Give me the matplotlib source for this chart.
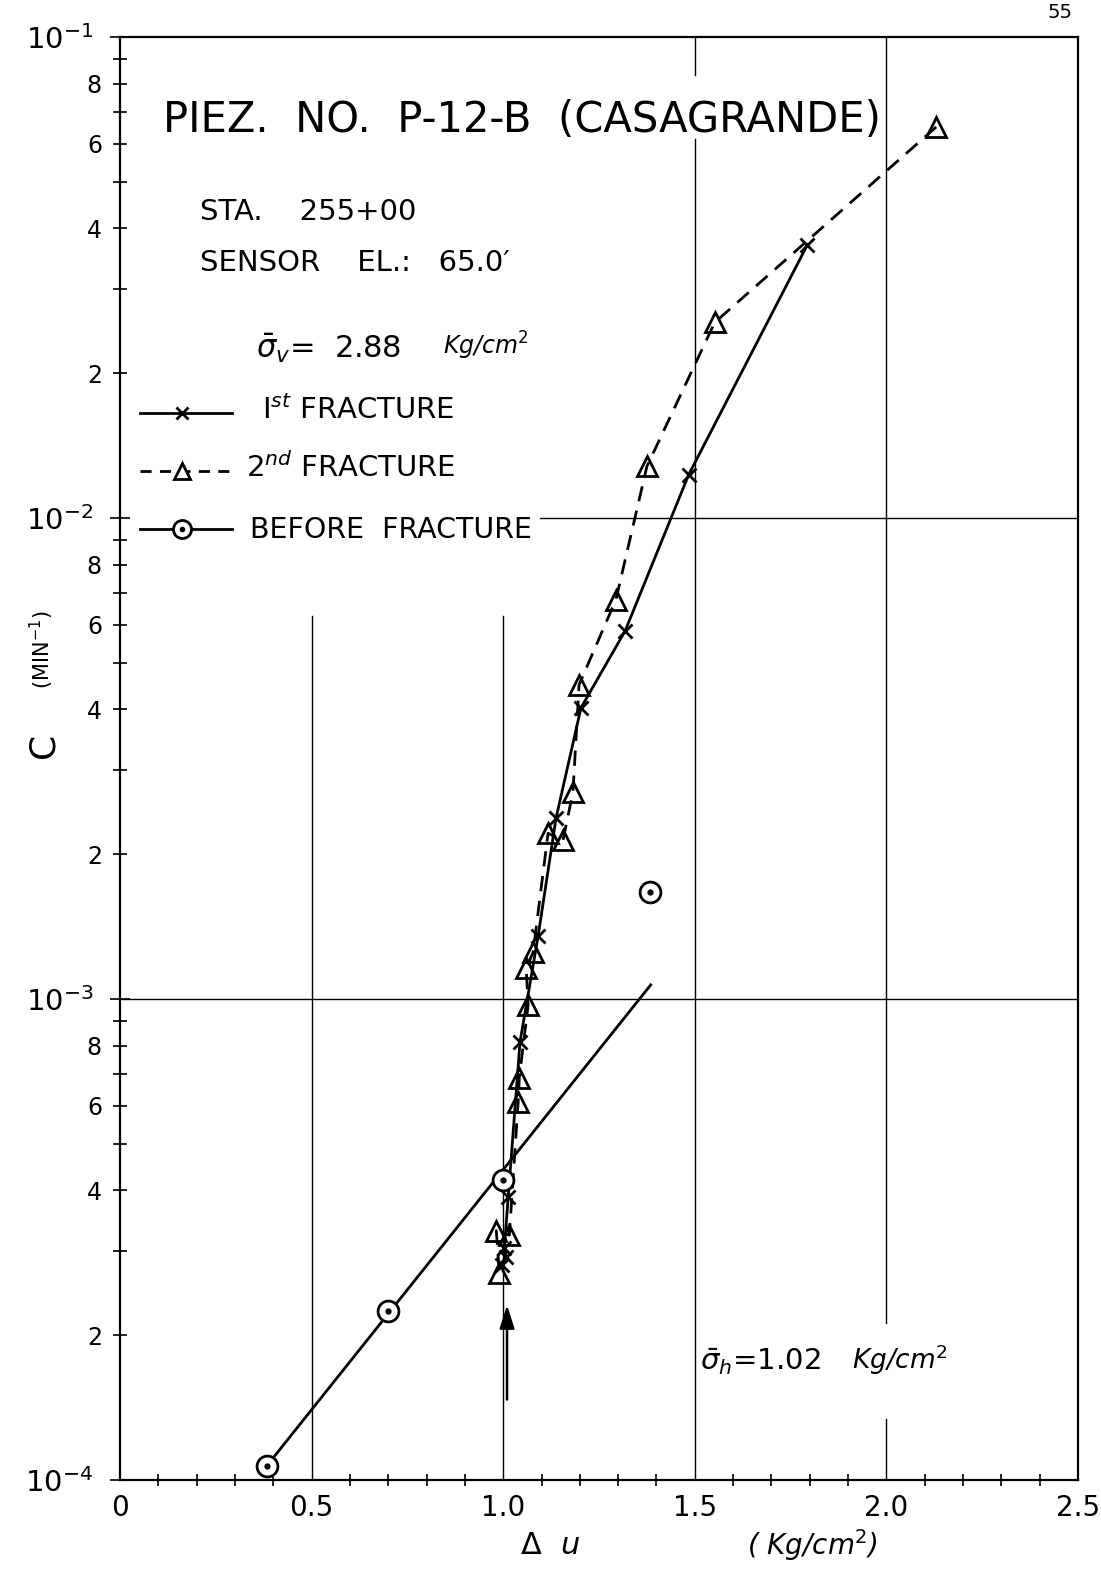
import matplotlib
matplotlib.use("Agg")
import matplotlib.pyplot as plt
from matplotlib.ticker import FixedLocator, FixedFormatter, MultipleLocator

plt.rcParams['font.family'] = ['DejaVu Sans']
plt.rcParams['mathtext.fontset'] = 'dejavusans'

# ---- data -------------------------------------------------------------
# 1st fracture (x markers, solid line)
first_du = [1.794, 1.484, 1.318, 1.203, 1.138, 1.091, 1.044, 1.013, 1.003, 1.008, 0.998]
first_c = [3.70e-2, 1.23e-2, 5.82e-3, 4.03e-3, 2.38e-3, 1.35e-3, 8.15e-4,
           3.87e-4, 3.03e-4, 2.91e-4, 2.80e-4]

# 2nd fracture (triangles, dashed line)
second_du = [2.130, 1.552, 1.375, 1.294, 1.198, 1.182, 1.156, 1.117, 1.078,
             1.060, 1.065, 1.042, 1.039, 1.016, 0.982, 0.990]
second_c = [6.50e-2, 2.55e-2, 1.28e-2, 6.76e-3, 4.50e-3, 2.69e-3, 2.14e-3,
            2.21e-3, 1.25e-3, 1.16e-3, 9.70e-4, 6.86e-4, 6.10e-4, 3.23e-4,
            3.30e-4, 2.69e-4]

# before fracture (circled dots) and its straight-line fit
before_du = [0.383, 0.700, 1.000, 1.383]
before_c = [1.07e-4, 2.25e-4, 4.20e-4, 1.67e-3]
fit_du = [0.383, 1.385]
fit_c = [1.07e-4, 1.07e-3]

# arrow marking sigma_h
arrow_du = 1.01
arrow_c = [1.47e-4, 2.31e-4]

x_ticks = [0, 0.5, 1.0, 1.5, 2.0, 2.5]
x_ticklabels = ["0", "0.5", "1.0", "1.5", "2.0", "2.5"]
y_major = [1e-4, 1e-3, 1e-2, 1e-1]
y_major_labels = [r"$10^{-4}$", r"$10^{-3}$", r"$10^{-2}$", r"$10^{-1}$"]

# ---- figure -----------------------------------------------------------
W, H = 1101, 1569
fig = plt.figure(figsize=(W / 100, H / 100), dpi=100)
fig.patch.set_facecolor("white")
ax = fig.add_axes([120 / W, 1 - 1480 / H, 958 / W, 1443 / H])
ax.set_yscale("log")
ax.set_xlim(0, 2.5)
ax.set_ylim(1e-4, 1e-1)

for s in ax.spines.values():
    s.set_linewidth(1.6)
    s.set_color("black")

# grid segments
vgrid = [(0.5, 0.0, 0.599), (1.0, 0.0, 0.599), (1.5, 0.0, 0.929), (1.5, 0.974, 1.0),
         (2.0, 0.0, 0.042), (2.0, 0.109, 1.0)]
for xv, a, b in vgrid:
    ax.axvline(xv, ymin=a, ymax=b, color="black", lw=1.0, zorder=1)
ax.axhline(1e-2, xmin=0.438, xmax=1.0, color="black", lw=1.0, zorder=1)
ax.axhline(1e-3, xmin=0.0, xmax=1.0, color="black", lw=1.0, zorder=1)

# ticks
ax.set_xticks(x_ticks)
ax.set_xticklabels(x_ticklabels)
ax.xaxis.set_minor_locator(MultipleLocator(0.1))
ax.tick_params(axis="x", which="major", length=0, labelsize=20, pad=10)
ax.tick_params(axis="x", which="minor", direction="inout", length=8, width=1.2)

minor_y = []
minor_lab = []
for dec in [1e-4, 1e-3, 1e-2]:
    for m in range(2, 10):
        minor_y.append(m * dec)
        minor_lab.append(str(m) if m in (2, 4, 6, 8) else "")
ax.yaxis.set_major_locator(FixedLocator(y_major))
ax.yaxis.set_major_formatter(FixedFormatter(y_major_labels))
ax.yaxis.set_minor_locator(FixedLocator(minor_y))
ax.yaxis.set_minor_formatter(FixedFormatter(minor_lab))
ax.tick_params(axis="y", which="major", direction="inout", length=14, width=1.2,
               labelsize=21, pad=12)
ax.tick_params(axis="y", which="minor", direction="inout", length=10, width=1.2,
               labelsize=17, pad=8)

# data
ax.plot(fit_du, fit_c, color="black", lw=2.0, zorder=3)
ax.plot(first_du, first_c, color="black", lw=2.0, marker="x", ms=10, mew=2.0, zorder=4)
ax.plot(second_du, second_c, color="black", lw=2.0, ls=(0, (5.5, 3.5)), marker="^",
        ms=14, mew=2.0, mfc="none", zorder=4)
ax.plot(before_du, before_c, ls="none", marker="o", ms=15, mew=2.0, mfc="white",
        mec="black", zorder=5)
ax.plot(before_du, before_c, ls="none", marker="o", ms=3.5, color="black", zorder=6)

ax.annotate("", xy=(arrow_du, arrow_c[1]), xytext=(arrow_du, arrow_c[0]),
            arrowprops=dict(arrowstyle="-|>,head_length=1.4,head_width=0.45",
                            color="black", lw=1.8, shrinkA=0, shrinkB=0), zorder=4)


def ftext(px, py, s, **kw):
    fig.text(px / W, 1 - py / H, s, **kw)


ftext(1060, 12, "55", fontsize=14, ha="center", va="center")
ftext(163, 120, "PIEZ.  NO.  P-12-B  (CASAGRANDE)", fontsize=30, ha="left", va="center")
ftext(200, 212, "STA.    255+00", fontsize=21, ha="left", va="center")
ftext(200, 263, "SENSOR    EL.:   65.0\u2032", fontsize=21, ha="left", va="center")
ftext(256, 348, r"$\bar{\sigma}_v$=  2.88", fontsize=22, ha="left", va="center")
ftext(443, 346, r"Kg/cm$^2$", fontsize=17, ha="left", va="center", style="italic")
ftext(700, 1362, r"$\bar{\sigma}_h$=1.02", fontsize=21, ha="left", va="center")
ftext(852, 1360, r"Kg/cm$^2$", fontsize=19, ha="left", va="center", style="italic")

# hand-drawn style key
kx0, kx1, kxm = 140 / W, 232 / W, 182 / W
for py, ls, mk, ms in [(413, "-", "x", 9), (471, (0, (4, 3)), "^", 12), (529, "-", "o", 13)]:
    fy = 1 - py / H
    fig.add_artist(plt.Line2D([kx0, kx1], [fy, fy], color="black", lw=2.0, ls=ls,
                              transform=fig.transFigure))
    mfc = "white" if mk != "x" else "black"
    fig.add_artist(plt.Line2D([kxm], [fy], marker=mk, ms=ms, mew=2.0, mfc=mfc,
                              mec="black", ls="none", transform=fig.transFigure))
    if mk == "o":
        fig.add_artist(plt.Line2D([kxm], [fy], marker="o", ms=3, color="black",
                                  ls="none", transform=fig.transFigure))
ftext(262, 410, r"I$^{st}$ FRACTURE", fontsize=21, ha="left", va="center")
ftext(246, 468, r"2$^{nd}$ FRACTURE", fontsize=21, ha="left", va="center")
ftext(250, 530, "BEFORE  FRACTURE", fontsize=20.5, ha="left", va="center")

# axis titles
ftext(44, 745, "C", fontsize=26, rotation=90, ha="center", va="center")
ftext(42, 650, r"(MIN$^{-1}$)", fontsize=15, rotation=90, ha="center", va="center")
ftext(550, 1545, r"$\Delta$  $\mathit{u}$", fontsize=22, ha="center", va="center")
ftext(812, 1545, r"( Kg/cm$^2$)", fontsize=20, ha="center", va="center", style="italic")

fig.savefig("out.png", dpi=100, facecolor="white")
